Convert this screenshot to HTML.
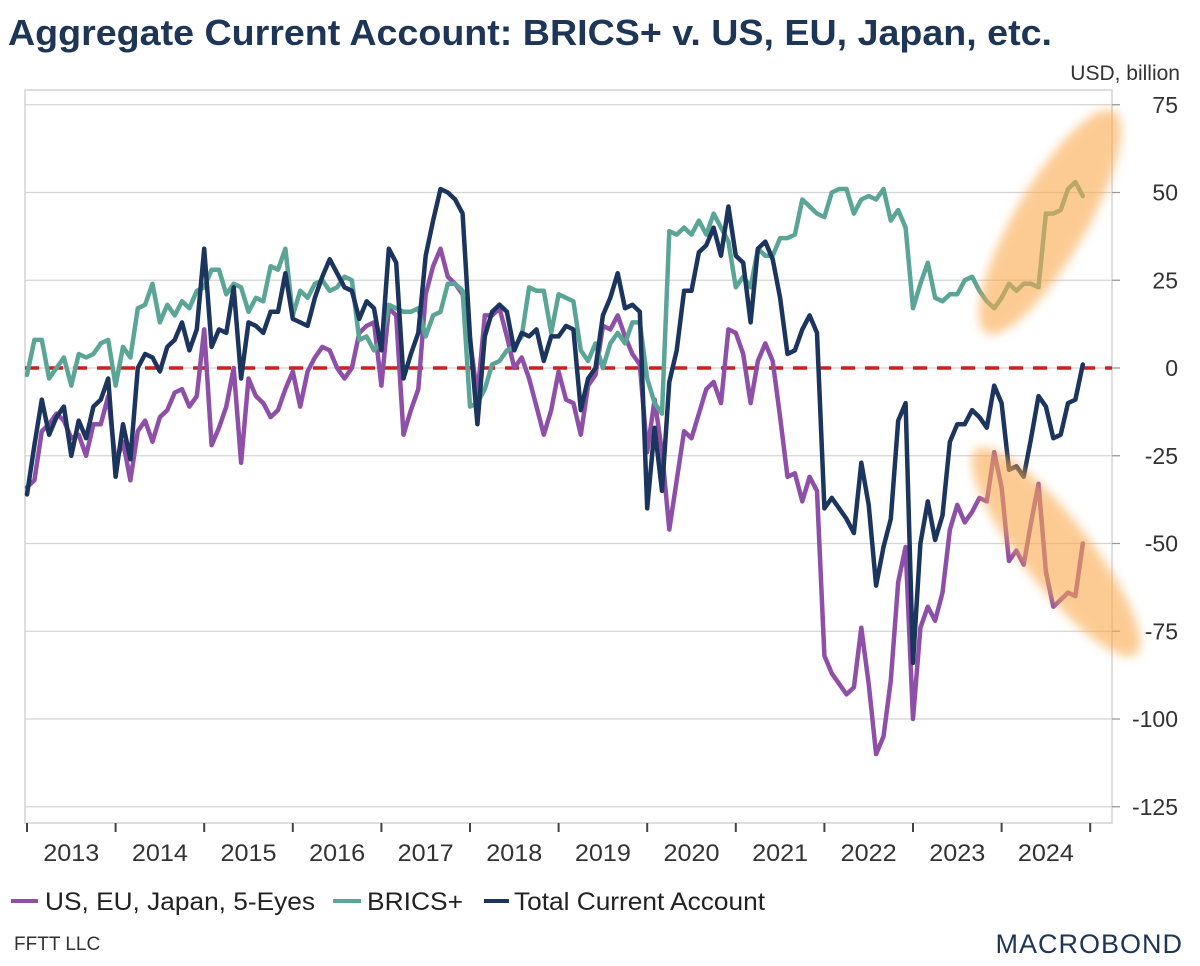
<!DOCTYPE html>
<html><head><meta charset="utf-8"><style>
body{margin:0;background:#fff;}
svg{display:block;font-family:"Liberation Sans",sans-serif;}
</style></head><body>
<svg width="1200" height="966" viewBox="0 0 1200 966">
<defs><filter id="blur" x="-50%" y="-50%" width="200%" height="200%"><feGaussianBlur stdDeviation="5"/></filter></defs>
<text x="8" y="45" font-size="36" font-weight="bold" fill="#1d3557" textLength="1044" lengthAdjust="spacingAndGlyphs">Aggregate Current Account: BRICS+ v. US, EU, Japan, etc.</text>
<text x="1180" y="80" font-size="21" fill="#333" text-anchor="end">USD, billion</text>
<g id="grid"></g>
<rect x="25" y="90" width="1087" height="733" fill="none" stroke="#d4d4d4" stroke-width="1.5"/>
<g id="yaxis"></g>
<g id="xaxis"></g>
<line x1="25" y1="368" x2="1112" y2="368" stroke="#cc1f1f" stroke-width="3.5" stroke-dasharray="14,10"/>
<g id="series"></g>
<g filter="url(#blur)" opacity="0.6">
<ellipse cx="1050" cy="222" rx="128" ry="36" transform="rotate(-60 1050 222)" fill="#fba94e"/>
<ellipse cx="1056" cy="552" rx="130" ry="34" transform="rotate(52 1056 552)" fill="#fba94e"/>
</g>
<g>
<line x1="11" y1="901" x2="38" y2="901" stroke="#8e4fa8" stroke-width="4"/>
<text x="45" y="910" font-size="25" fill="#222" textLength="270" lengthAdjust="spacingAndGlyphs">US, EU, Japan, 5-Eyes</text>
<line x1="333" y1="901" x2="361" y2="901" stroke="#5aa596" stroke-width="4"/>
<text x="367" y="910" font-size="25" fill="#222" textLength="96" lengthAdjust="spacingAndGlyphs">BRICS+</text>
<line x1="484" y1="901" x2="509" y2="901" stroke="#1b355e" stroke-width="4"/>
<text x="514" y="910" font-size="25" fill="#222" textLength="251" lengthAdjust="spacingAndGlyphs">Total Current Account</text>
</g>
<text x="14" y="950" font-size="19" fill="#333">FFTT LLC</text>
<text x="1183" y="953" font-size="27" fill="#1d3557" text-anchor="end" letter-spacing="1">MACROBOND</text>
</svg>
<script>
const years=["2013","2014","2015","2016","2017","2018","2019","2020","2021","2022","2023","2024"];
const yTicks=[75,50,25,0,-25,-50,-75,-100,-125];
const usEu=[-34,-32,-18,-16,-13,-15,-20,-19,-25,-16,-16,-8,
-27,-21,-32,-18,-15,-21,-14,-12,-7,-6,-11,-8,
11,-22,-17,-11,0,-27,-3,-8,-10,-14,-12,-6,
-1,-11,-1,3,6,5,0,-3,0,10,12,13,
-5,17,15,-19,-12,-6,21,29,34,26,24,21,
8,-8,15,15,17,9,0,3,-3,-11,-19,-12,
-1,-9,-10,-19,-5,-2,12,11,15,9,4,1,
-24,-9,-24,-46,-32,-18,-20,-13,-6,-4,-10,11,
10,4,-10,2,7,2,-14,-31,-30,-38,-31,-35,
-82,-87,-90,-93,-91,-74,-90,-110,-105,-89,-61,-51,
-100,-74,-68,-72,-64,-46,-39,-44,-41,-37,-38,-24,
-34,-55,-52,-56,-44,-33,-58,-68,-66,-64,-65,-50];
const brics=[-2,8,8,-3,0,3,-5,4,3,4,7,8,
-5,6,3,17,18,24,13,18,15,19,17,22,
23,28,28,21,24,23,16,20,19,29,28,34,
15,22,20,24,25,22,23,26,25,8,9,5,
8,18,17,16,16,17,9,15,16,24,24,22,
-11,-10,-6,1,2,5,6,9,23,22,22,10,
21,20,19,5,2,7,0,7,10,7,13,13,
-3,-10,-13,39,38,40,38,42,38,44,40,36,
23,26,23,34,32,32,37,37,38,48,46,44,
43,50,51,51,44,48,49,48,51,42,45,40,
17,24,30,20,19,21,21,25,26,22,19,17,
20,24,22,24,24,23,44,44,45,51,53,49];
const total=[-36,-22,-9,-19,-14,-11,-25,-15,-20,-11,-9,-3,
-31,-16,-26,0,4,3,-1,6,8,13,5,11,
34,6,11,10,23,-3,13,12,10,16,16,27,
14,13,12,20,26,31,27,23,22,14,19,17,
5,34,30,-3,4,10,32,42,51,50,48,44,
9,-16,9,16,18,16,5,10,9,11,2,9,
9,12,11,-12,-3,0,15,20,27,17,18,16,
-40,-17,-35,-4,5,22,22,33,35,40,32,46,
32,30,13,34,36,31,20,4,5,11,15,10,
-40,-37,-40,-43,-47,-27,-39,-62,-51,-43,-15,-10,
-84,-50,-38,-49,-42,-21,-16,-16,-12,-14,-17,-5,
-10,-29,-28,-31,-20,-8,-11,-20,-19,-10,-9,1];
const NS="http://www.w3.org/2000/svg";
const X0=27, MONTH=88.6/12;
const xs=i=>X0+i*MONTH;
const ys=v=>368-v*3.51;
function mk(tag,attrs,parent){const e=document.createElementNS(NS,tag);for(const k in attrs)e.setAttribute(k,attrs[k]);parent.appendChild(e);return e;}
const grid=document.getElementById('grid'), ya=document.getElementById('yaxis'), xa=document.getElementById('xaxis'), ser=document.getElementById('series');
yTicks.forEach(t=>{
  const g=mk('line',{x1:25,x2:1112,y1:ys(t),y2:ys(t),stroke:'#d4d4d4','stroke-width':1.3},grid);
  
  
  const tk=mk('line',{x1:1112,x2:1120,y1:ys(t),y2:ys(t),stroke:'#999','stroke-width':1.3},ya);
  
  
  const tx=mk('text',{x:1178,y:ys(t)+8,'font-size':23,fill:'#333','text-anchor':'end'},ya);
  tx.textContent=String(t);
  
  
});
for(let i=0;i<=years.length;i++){
  const x=X0+i*88.6;
  const tk=mk('line',{x1:x,x2:x,y1:823,y2:832,stroke:'#444','stroke-width':2},xa);
  
  
  if(i<years.length){
    const tx=mk('text',{x:x+44.3,y:861,'font-size':24,fill:'#333','text-anchor':'middle',textLength:56,lengthAdjust:'spacingAndGlyphs'},xa);
    tx.textContent=years[i];
    
    
  }
}
function line(data,color,name){
  const p=mk('polyline',{points:data.map((v,i)=>xs(i).toFixed(1)+','+ys(v).toFixed(1)).join(' '),fill:'none',stroke:color,'stroke-width':4.5,'stroke-linejoin':'round','stroke-linecap':'round'},ser);
  
  
}
line(usEu,'#8e4fa8','line-us-eu-japan');
line(brics,'#5aa596','line-brics');
line(total,'#1b355e','line-total');
</script>
</body></html>
